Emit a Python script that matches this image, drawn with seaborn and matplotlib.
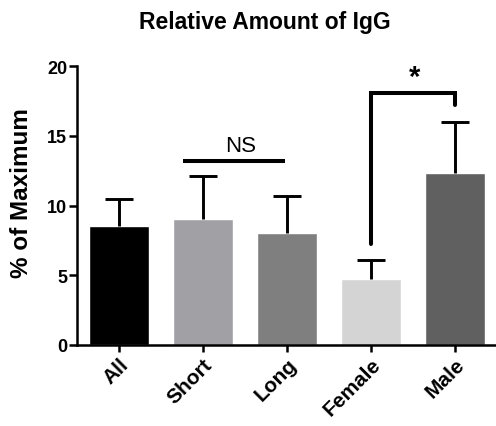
import matplotlib
matplotlib.use("Agg")
import matplotlib.pyplot as plt
import seaborn as sns
import pandas as pd
import numpy as np

categories = ["All", "Short", "Long", "Female", "Male"]
values = [8.5, 9.05, 8.05, 4.72, 12.35]
err_upper = [2.0, 3.1, 2.6, 1.4, 3.65]
colors = ["#000000", "#a1a0a5", "#7f7f7f", "#d4d4d4", "#606060"]

sns.set_theme(style="ticks")
plt.rcParams["font.family"] = ["Liberation Sans", "DejaVu Sans"]
plt.rcParams["text.color"] = "black"

df = pd.DataFrame({"cat": categories, "val": values})

fig = plt.figure(figsize=(4.96, 4.27), dpi=100)
ax = fig.add_axes([77/496, 1-346/427, (495-77)/496, (346-67)/427])

sns.barplot(data=df, x="cat", y="val", hue="cat", palette=colors, legend=False,
            width=0.714, ax=ax, errorbar=None, saturation=1)

x = np.arange(len(categories))
tops = np.array(values) + np.array(err_upper)
ax.vlines(x, values, tops, colors="black", lw=2.1, zorder=1)
ax.hlines(tops, x - 0.165, x + 0.165, colors="black", lw=2.1, zorder=1)

ax.set_xlim(-0.5, 4.476)
ax.set_ylim(0, 20)
ax.set_yticks([0, 5, 10, 15, 20])
ax.set_xlabel("")
ax.set_ylabel("")
fig.text(265/496, 1-22/427, "Relative Amount of IgG", fontsize=16.5, fontweight="bold",
         ha="center", va="center", color="black")
fig.text(22/496, 1-193/427, "% of Maximum", fontsize=17.5, fontweight="bold",
         ha="center", va="center", rotation=90, color="black")

for s in ["top", "right"]:
    ax.spines[s].set_visible(False)
for s in ["left", "bottom"]:
    ax.spines[s].set_linewidth(1.8)
    ax.spines[s].set_color("black")
ax.tick_params(axis="y", width=1.8, length=6, labelsize=13, colors="black", pad=1)
ax.tick_params(axis="x", width=1.8, length=5, labelsize=15, colors="black", pad=2)
ax.set_xticks(x)
ax.set_xticklabels(categories, rotation=45, ha="right", rotation_mode="anchor", fontweight="bold")
for lab in ax.get_yticklabels():
    lab.set_fontweight("bold")

# NS line
ax.plot([1 - 0.24, 2 - 0.02], [13.17, 13.17], color="black", lw=2.9, solid_capstyle="butt", clip_on=False)
ax.text(1.5 - 0.05, 14.3, "NS", ha="center", va="center", fontsize=16, color="black")

# significance bracket
ax.plot([3, 3, 4, 4], [7.25, 18.1, 18.1, 17.2], color="black", lw=2.9,
        solid_joinstyle="miter", clip_on=False)
ax.text(3.52, 19.2, "*", ha="center", va="center", fontsize=21, fontweight="bold", color="black")

fig.savefig("out.png", dpi=100)
